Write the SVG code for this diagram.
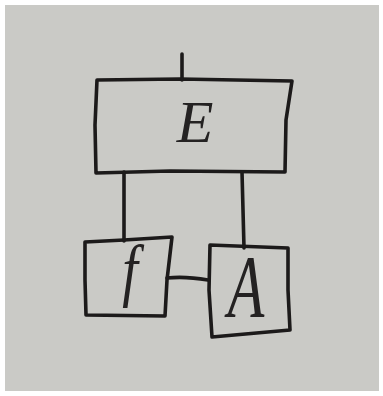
<svg xmlns="http://www.w3.org/2000/svg" width="383" height="396" viewBox="0 0 383 396">
<style>
.ln{fill:none;stroke:#1c1a1a;stroke-width:3.6;stroke-linecap:round;stroke-linejoin:round}
.lb{font-family:"Liberation Serif",serif;font-style:italic;fill:#242222}
</style>
<rect width="383" height="396" fill="#ffffff"/>
<rect x="5" y="5" width="374" height="386" fill="#cacac6"/>
<g id="E">
<path class="ln" d="M97,80 L180,79 L292,81 L286,120 L285,172 L170,171 L96,173 L95,125 Z"/>
<text class="lb" x="195" y="142" font-size="60" text-anchor="middle">E</text>
</g>
<g id="f">
<path class="ln" d="M85,242 L124,240 L172,237 L167,280 L165,316 L86,315 L85,280 Z"/>
<text class="lb" x="0" y="0" font-size="70" text-anchor="middle" transform="translate(130,293) scale(0.8,1)">f</text>
</g>
<g id="A">
<path class="ln" d="M210,245 L288,248 L288,290 L290,330 L212,337 L209,290 Z"/>
<text class="lb" x="0" y="0" font-size="88" text-anchor="middle" transform="translate(246,316) scale(0.68,1)">A</text>
</g>
<g id="connectors">
<path class="ln" d="M182,54 L182,80"/>
<path class="ln" d="M124,172 L124,241"/>
<path class="ln" d="M242,172 L244,248"/>
<path class="ln" d="M167,278 Q185,276 208,280"/>
</g>
</svg>
